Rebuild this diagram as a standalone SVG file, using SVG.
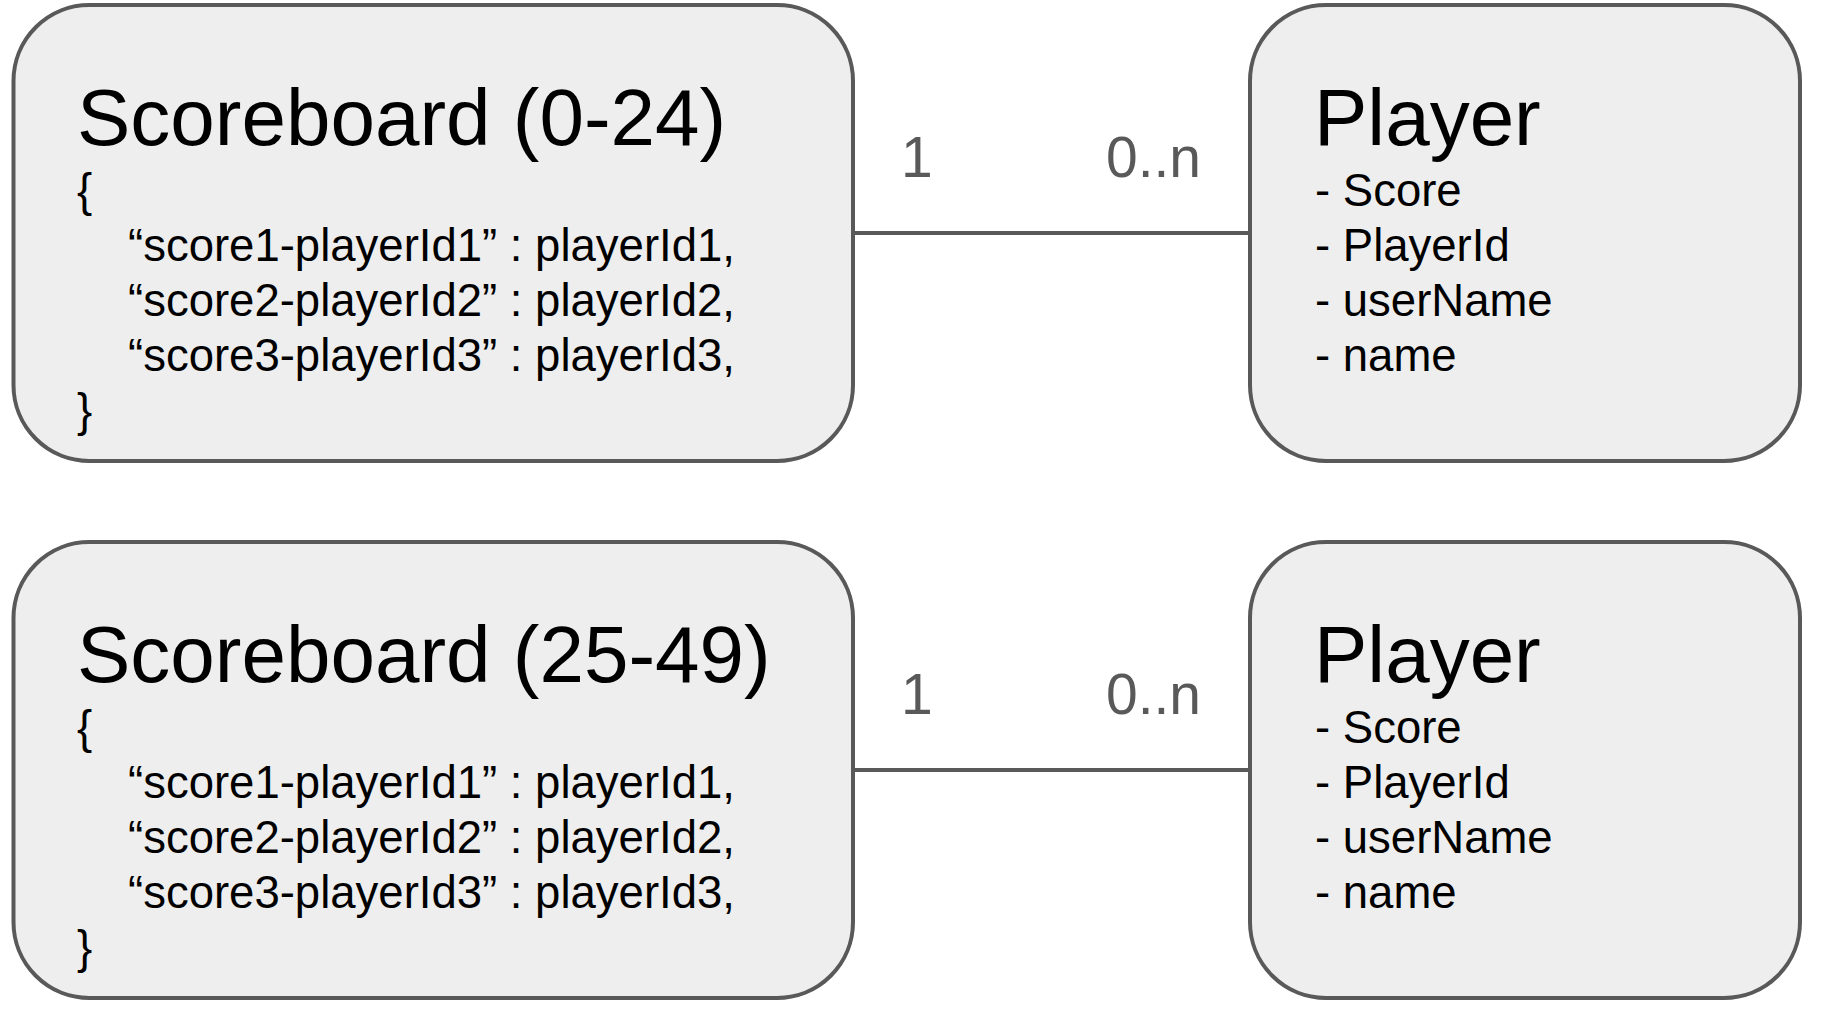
<svg xmlns="http://www.w3.org/2000/svg" width="1824" height="1012" viewBox="0 0 1824 1012">
<style>
.box{fill:#eeeeee;stroke:#595959;stroke-width:4}
.conn{stroke:#595959;stroke-width:4;fill:none}
.t{font-family:"Liberation Sans",Arial,sans-serif;fill:#000}
.title{font-size:80px}
.body{font-size:45.5px}
.lbl{font-family:"Liberation Sans",Arial,sans-serif;font-size:57px;fill:#595959}
</style>
<rect width="1824" height="1012" fill="#ffffff"/>
<g id="connectors">
<line class="conn" x1="853" y1="233" x2="1250" y2="233"/>
<text class="lbl" x="901" y="177">1</text>
<text class="lbl" x="1106" y="177">0..n</text>
<line class="conn" x1="853" y1="770" x2="1250" y2="770"/>
<text class="lbl" x="901" y="714">1</text>
<text class="lbl" x="1106" y="714">0..n</text>
</g>
<g id="scoreboard1">
<rect class="box" x="13.5" y="5" width="839.5" height="456" rx="76" ry="76"/>
<text class="t title" x="77" y="145">Scoreboard (0-24)</text>
<text class="t body" x="77" y="206">{</text>
<text class="t body" x="128" y="261">“score1-playerId1” : playerId1,</text>
<text class="t body" x="128" y="316">“score2-playerId2” : playerId2,</text>
<text class="t body" x="128" y="371">“score3-playerId3” : playerId3,</text>
<text class="t body" x="77" y="426">}</text>
</g>
<g id="player1">
<rect class="box" x="1250" y="5" width="550" height="456" rx="76" ry="76"/>
<text class="t title" x="1314" y="145">Player</text>
<text class="t body" x="1315" y="206">- Score</text>
<text class="t body" x="1315" y="261">- PlayerId</text>
<text class="t body" x="1315" y="316">- userName</text>
<text class="t body" x="1315" y="371">- name</text>
</g>
<g id="scoreboard2">
<rect class="box" x="13.5" y="542" width="839.5" height="456" rx="76" ry="76"/>
<text class="t title" x="77" y="682">Scoreboard (25-49)</text>
<text class="t body" x="77" y="743">{</text>
<text class="t body" x="128" y="798">“score1-playerId1” : playerId1,</text>
<text class="t body" x="128" y="853">“score2-playerId2” : playerId2,</text>
<text class="t body" x="128" y="908">“score3-playerId3” : playerId3,</text>
<text class="t body" x="77" y="963">}</text>
</g>
<g id="player2">
<rect class="box" x="1250" y="542" width="550" height="456" rx="76" ry="76"/>
<text class="t title" x="1314" y="682">Player</text>
<text class="t body" x="1315" y="743">- Score</text>
<text class="t body" x="1315" y="798">- PlayerId</text>
<text class="t body" x="1315" y="853">- userName</text>
<text class="t body" x="1315" y="908">- name</text>
</g>
</svg>
